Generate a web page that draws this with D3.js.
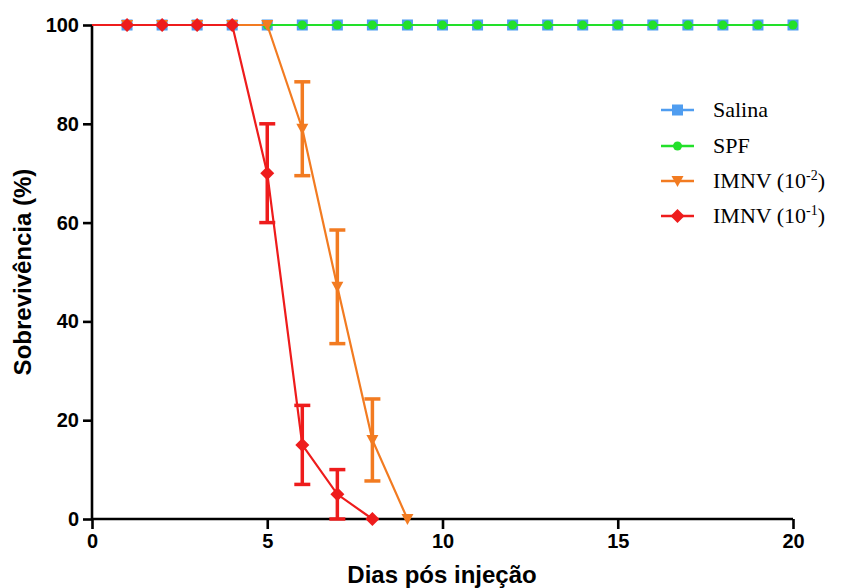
<!DOCTYPE html>
<html><head><meta charset="utf-8">
<script src="https://cdn.jsdelivr.net/npm/d3@7"></script>
<style>body{margin:0;background:#fff}svg{display:block}</style>
</head><body>
<svg id="c" width="843" height="588"></svg>
<script>
const days = d3.range(0, 21);
const salina = days.map(() => 100);
const spf = days.map(() => 100);
const imnv2Days = [0,1,2,3,4,5,6,7,8,9];
const imnv2 = [100,100,100,100,100,100,79,47,16,0];
const imnv2Err = [0,0,0,0,0,0,9.5,11.5,8.3,0];
const imnv1Days = [0,1,2,3,4,5,6,7,8];
const imnv1 = [100,100,100,100,100,70,15,5,0];
const imnv1Err = [0,0,0,0,0,10,8,5,0];
const xTicks = [0,5,10,15,20];
const yTicks = [0,20,40,60,80,100];
const legendLabels = ["Salina","SPF","IMNV (10","IMNV (10"];
const legendSup = ["","","-2","-1"];

const svg = d3.select("#c");
const x = d3.scaleLinear().domain([0,20]).range([92,793]);
const y = d3.scaleLinear().domain([0,100]).range([519,25]);

const series = [
  {name:"Salina", xs:days, ys:salina, err:null, color:"#4f9df0", shape:"square"},
  {name:"SPF", xs:days, ys:spf, err:null, color:"#22e02a", shape:"circle"},
  {name:"IMNV2", xs:imnv2Days, ys:imnv2, err:imnv2Err, color:"#f27b21", shape:"tri"},
  {name:"IMNV1", xs:imnv1Days, ys:imnv1, err:imnv1Err, color:"#ee1c1c", shape:"diamond"}
];

function marker(g, shape, color, cx, cy){
  if(shape==="square") g.append("rect").attr("x",cx-5.5).attr("y",cy-5.5).attr("width",11).attr("height",11).attr("fill",color);
  else if(shape==="circle") g.append("circle").attr("cx",cx).attr("cy",cy).attr("r",4.5).attr("fill",color);
  else if(shape==="tri") g.append("path").attr("d",`M${cx-6},${cy-5}L${cx+6},${cy-5}L${cx},${cy+6}Z`).attr("fill",color);
  else g.append("path").attr("d",`M${cx},${cy-7}L${cx+7},${cy}L${cx},${cy+7}L${cx-7},${cy}Z`).attr("fill",color);
}

// axes
const xAxis = d3.axisBottom(x).tickValues(xTicks).tickSize(10).tickPadding(5).tickFormat(d3.format("d"));
const yAxis = d3.axisLeft(y).tickValues(yTicks).tickSize(9).tickPadding(4).tickFormat(d3.format("d"));
const gx = svg.append("g").attr("transform","translate(0,519)").call(xAxis);
const gy = svg.append("g").attr("transform","translate(92,0)").call(yAxis);
[gx,gy].forEach(g=>{
  g.select(".domain").attr("stroke","#000").attr("stroke-width",2.6);
  g.selectAll(".tick line").attr("stroke","#000").attr("stroke-width",2.6);
  g.selectAll(".tick text").attr("fill","#000").style("font-family","Liberation Sans, Arial, sans-serif").style("font-weight","bold").style("font-size","20px");
});
gx.select(".domain").attr("d","M92,0H793");
gy.select(".domain").attr("d","M0,519V25");

// series
series.forEach(s=>{
  const g = svg.append("g");
  const pts = s.xs.map((d,i)=>[d,s.ys[i],s.err?s.err[i]:0]);
  g.append("path").datum(pts).attr("fill","none").attr("stroke",s.color).attr("stroke-width",2.2)
    .attr("d",d3.line().x(d=>x(d[0])).y(d=>y(d[1])));
  pts.forEach(p=>{
    if(p[2]>0){
      const lo = Math.max(0,p[1]-p[2]), hi = p[1]+p[2];
      g.append("line").attr("x1",x(p[0])).attr("x2",x(p[0])).attr("y1",y(lo)).attr("y2",y(hi)).attr("stroke",s.color).attr("stroke-width",3.5);
      [lo,hi].forEach(v=>g.append("line").attr("x1",x(p[0])-8).attr("x2",x(p[0])+8).attr("y1",y(v)).attr("y2",y(v)).attr("stroke",s.color).attr("stroke-width",3.5));
    }
  });
  pts.forEach(p=>{ if(p[0]>0) marker(g,s.shape,s.color,x(p[0]),y(p[1])); });
});

// legend
const ly = [110,146,181,216];
series.forEach((s,i)=>{
  const g = svg.append("g");
  g.append("line").attr("x1",661).attr("x2",694).attr("y1",ly[i]).attr("y2",ly[i]).attr("stroke",s.color).attr("stroke-width",2.5);
  marker(g,s.shape,s.color,677.5,ly[i]);
  const t = g.append("text").attr("x",713).attr("y",ly[i]+7).style("font-family","Liberation Serif, Times New Roman, serif").style("font-size","22px").attr("fill","#000");
  t.append("tspan").text(legendLabels[i]);
  if(legendSup[i]){
    t.append("tspan").attr("dy",-8).style("font-size","14px").text(legendSup[i]);
    t.append("tspan").attr("dy",8).text(")");
  }
});

// titles
svg.append("text").attr("x",442).attr("y",583).attr("text-anchor","middle")
  .style("font-family","Liberation Sans, Arial, sans-serif").style("font-weight","bold").style("font-size","24px").text("Dias pós injeção");
svg.append("text").attr("transform","translate(31,272) rotate(-90)").attr("text-anchor","middle")
  .style("font-family","Liberation Sans, Arial, sans-serif").style("font-weight","bold").style("font-size","24px").text("Sobrevivência (%)");
</script>
</body></html>
